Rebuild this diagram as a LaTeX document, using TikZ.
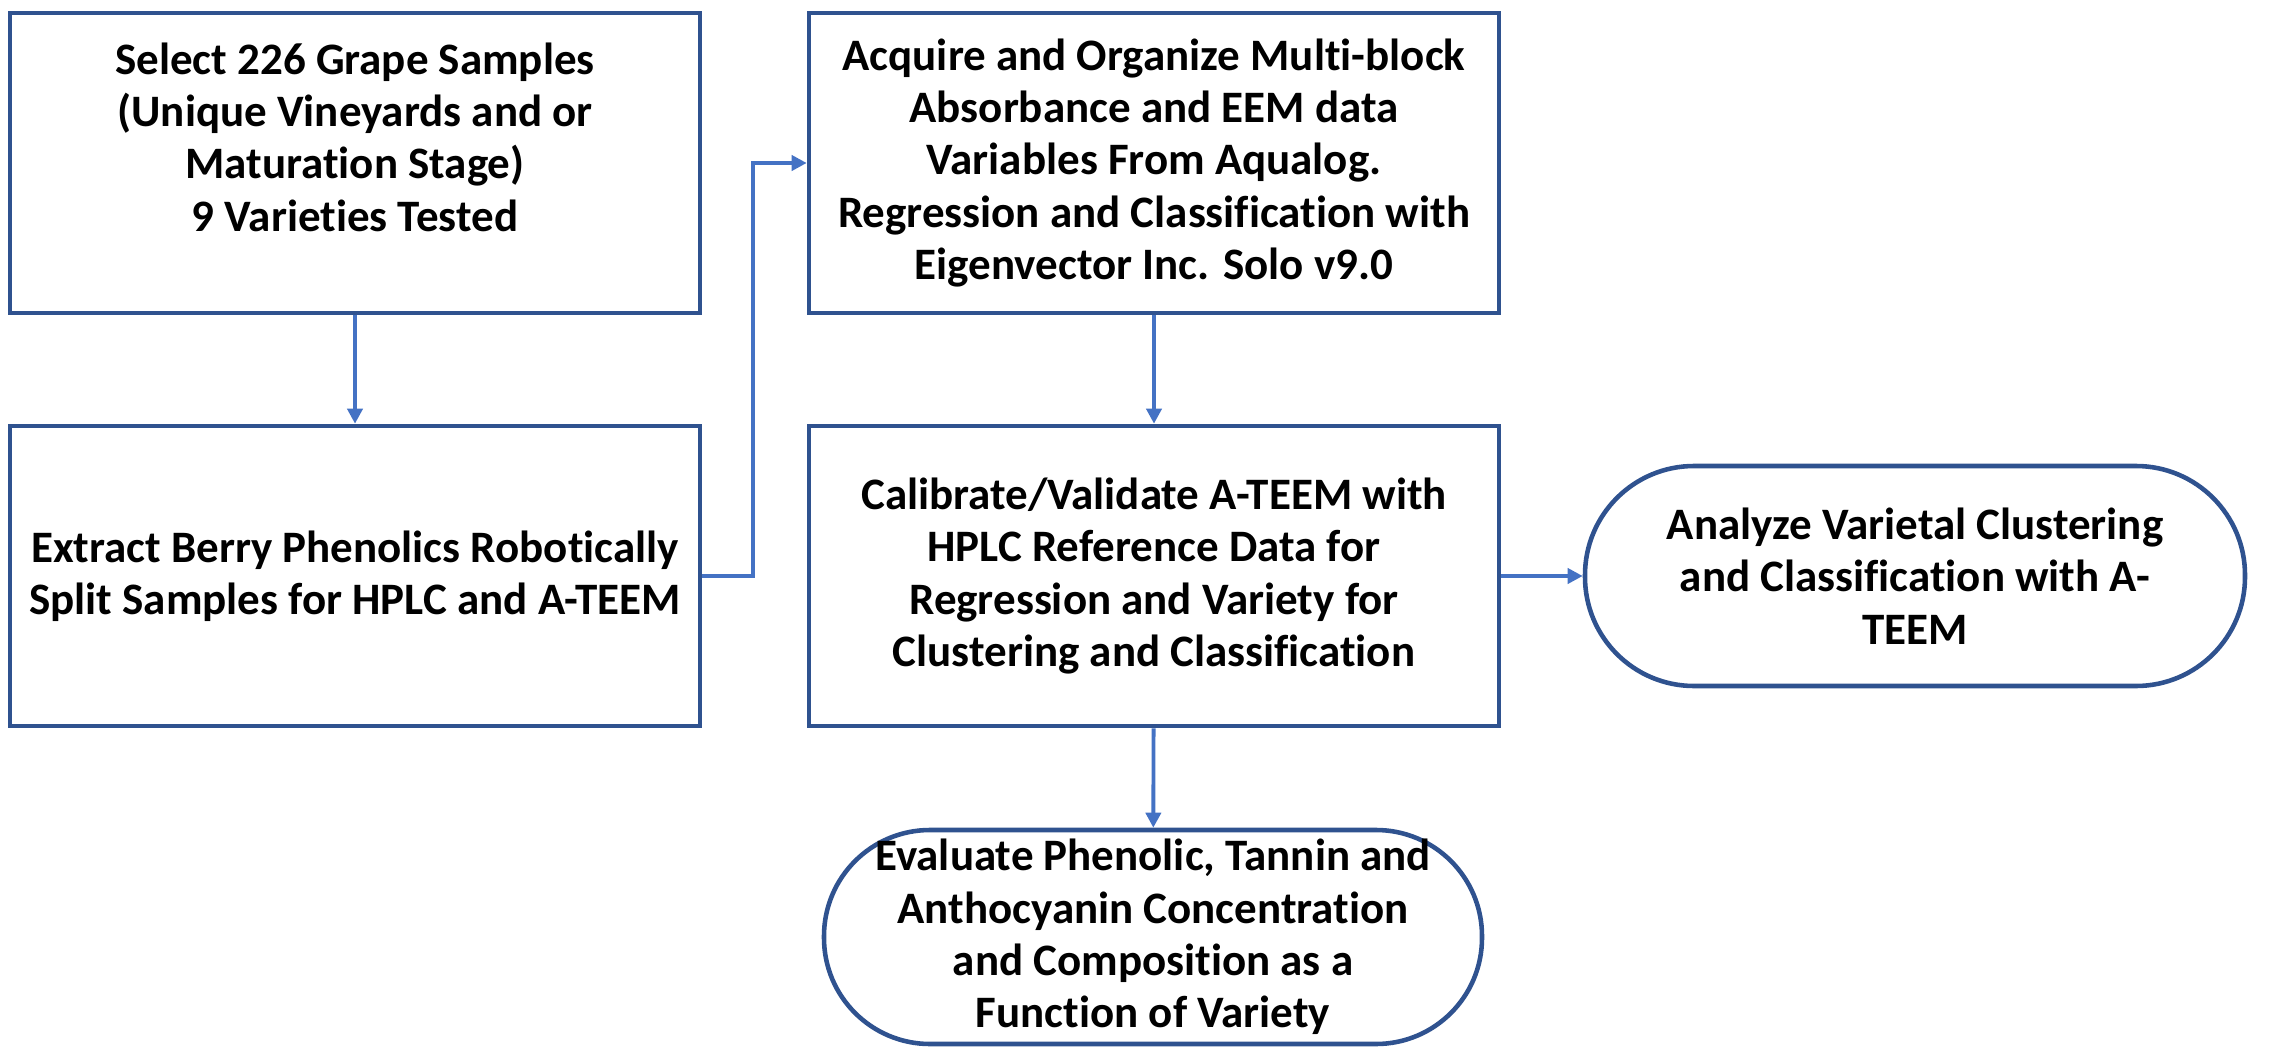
\documentclass[tikz,border=0pt]{standalone}
\usepackage{fontspec}
\setmainfont{Carlito}[Ligatures=NoCommon]
\usepackage{xcolor}
\definecolor{flowblue}{RGB}{47,82,143}
\definecolor{arrowblue}{RGB}{68,114,196}
\usetikzlibrary{arrows.meta,positioning}

\begin{document}
\begin{tikzpicture}[font=\fontsize{12.8}{14.9}\selectfont\bfseries,
  stepbox/.style={draw=flowblue,line width=1.3pt,align=center,minimum width=6.9cm,minimum height=3cm,inner sep=0pt},
  endbox/.style={draw=flowblue,line width=1.3pt,align=center,inner sep=0pt},
  flow/.style={arrowblue,line width=1.1pt,-{Triangle[length=0.15cm,width=0.15cm]}}]
  \useasboundingbox (0,0) rectangle (22.74,10.61);
  % left column
  \node[stepbox] (select) at (3.55,8.98) {Select 226 Grape Samples\\(Unique Vineyards and or\\Maturation Stage)\\9 Varieties Tested\\ \mbox{}};
  \node[stepbox] (extract) at (3.55,4.85) {Extract Berry Phenolics Robotically\\Split Samples for HPLC and A-TEEM};
  % middle column
  \node[stepbox] (acquire) at (11.54,8.98) {Acquire and Organize Multi-block\\Absorbance and EEM data\\Variables From Aqualog.\\Regression and Classification with\\Eigenvector Inc. Solo v9.0};
  \node[stepbox] (calib) at (11.54,4.85) {Calibrate/Validate A-TEEM with\\HPLC Reference Data for\\Regression and Variety for\\Clustering and Classification};
  % end points
  \node[endbox,minimum width=6.6cm,minimum height=2.2cm,rounded corners=1.09cm] (analyze) at (19.15,4.85) {Analyze Varietal Clustering\\and Classification with A-\\TEEM};
  \node[endbox,minimum width=6.58cm,minimum height=2.14cm,rounded corners=1.06cm] (evaluate) at (11.53,1.24) {Evaluate Phenolic, Tannin and\\Anthocyanin Concentration\\and Composition as a\\Function of Variety};
  % connectors
  \draw[flow] (select) -- (extract);
  \draw[flow] (extract.east) -- ++(0.51,0) |- (acquire.west);
  \draw[flow] (acquire) -- (calib);
  \draw[flow] (calib) -- (analyze);
  \draw[flow] (calib) -- (evaluate);
\end{tikzpicture}
\end{document}
